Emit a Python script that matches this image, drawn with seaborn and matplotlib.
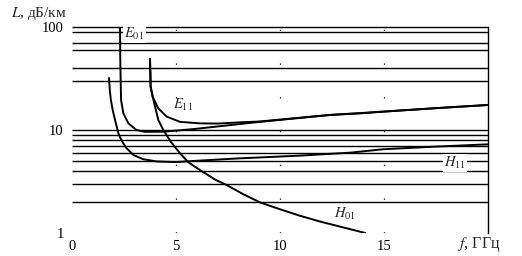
import numpy as np
import pandas as pd
import matplotlib
matplotlib.use("Agg")
import matplotlib.pyplot as plt
import seaborn as sns

# ---- data ----
h11_f = [1.78, 1.82, 1.87, 1.96, 2.07, 2.23, 2.31, 2.45, 2.63, 2.95, 3.43, 4.07, 5.0, 5.8, 8.0, 10.9, 13.4, 14.95, 17.5, 20.0]
h11_L = [32.0, 24.0, 19.5, 15.5, 12.5, 9.3, 8.5, 7.5, 6.64, 5.72, 5.2, 4.95, 4.88, 5.0, 5.3, 5.63, 6.03, 6.5, 6.9, 7.26]

e01_f = [2.31, 2.32, 2.34, 2.36, 2.47, 2.71, 3.1, 3.5, 4.4, 5.83, 7.5, 9.04, 12.4, 14.8, 17.5, 20.0]
e01_L = [100.0, 50.0, 30.0, 19.5, 14.5, 11.6, 10.0, 9.6, 9.63, 10.2, 11.1, 12.0, 14.0, 15.0, 16.3, 17.5]

e11_f = [3.75, 3.77, 3.78, 3.88, 4.15, 4.55, 5.19, 6.15, 7.0, 8.2, 9.04, 12.4, 13.85, 14.8, 17.5, 20.0]
e11_L = [48.9, 35.0, 26.3, 21.0, 16.2, 13.5, 12.0, 11.6, 11.55, 11.9, 12.1, 14.0, 14.5, 15.0, 16.3, 17.5]

h01_f = [3.75, 3.78, 3.88, 4.15, 4.39, 4.75, 5.19, 5.6, 6.15, 6.88, 7.44, 8.2, 9.04, 10.0, 10.96, 12.0, 13.37, 14.1]
h01_L = [48.9, 26.3, 21.0, 12.5, 10.0, 7.7, 5.95, 4.85, 4.09, 3.3, 2.92, 2.4, 1.98, 1.7, 1.47, 1.28, 1.09, 1.0]

grid_levels = [2, 3, 4, 5, 6, 7, 8, 9, 10, 30, 40, 60, 70, 90, 100]
x_ticks = [0, 5, 10, 15]
x_tick_labels = ["0", "5", "10", "15"]
y_ticks = [1, 10, 100]
y_tick_labels = ["1", "10", "100"]
dotted_x = [5, 10, 15]

# ---- style ----
sns.set_theme(style="white")
plt.rcParams['font.family'] = ['Liberation Serif', 'DejaVu Serif']
plt.rcParams['mathtext.fontset'] = 'stix'

fig = plt.figure(figsize=(5.22, 2.56), dpi=100)
ax = fig.add_axes([72 / 522, 1 - 233 / 256, (488 - 72) / 522, (233 - 27) / 256])
ax.set_facecolor('white')

ax.set_yscale('log')
ax.set_xlim(0, 20)
ax.set_ylim(1, 100)

# horizontal grid lines
ax.hlines(grid_levels, 0, 20, colors='black', linewidth=1.0, zorder=1, clip_on=False)
# sparse dotted verticals
ax.vlines(dotted_x, 1, 100, colors='black', linewidth=0.9, linestyles=(0, (1, 26)), zorder=1)

curves = [(h11_f, h11_L), (e01_f, e01_L), (e11_f, e11_L), (h01_f, h01_L)]
for f, L in curves:
    df = pd.DataFrame({'f': f, 'L': L})
    sns.lineplot(data=df, x='f', y='L', ax=ax, color='black', linewidth=1.4,
                 sort=False, estimator=None, zorder=4)

# curve labels
bb = dict(facecolor='white', edgecolor='none', pad=0.8)
ax.text(3.0, 86, r'$E_{01}$', fontsize=10.5, ha='center', va='center', bbox=bb, zorder=3)
ax.text(5.34, 17.5, r'$E_{11}$', fontsize=10.5, ha='center', va='center', zorder=3)
ax.text(18.4, 4.78, r'$H_{11}$', fontsize=10.5, ha='center', va='center', bbox=bb, zorder=3)
ax.text(13.1, 1.53, r'$H_{01}$', fontsize=10.5, ha='center', va='center', zorder=3)

# axes appearance
for s in ['left', 'top', 'bottom']:
    ax.spines[s].set_visible(False)
ax.spines['right'].set_visible(True)
ax.spines['right'].set_color('black')
ax.spines['right'].set_linewidth(1.0)

ax.set_xticks(x_ticks)
ax.set_xticklabels(x_tick_labels)
ax.set_yticks(y_ticks)
ax.set_yticklabels(y_tick_labels)
ax.minorticks_off()
ax.tick_params(axis='both', length=0, labelsize=10.5, colors='black')
ax.tick_params(axis='y', pad=6)
ax.tick_params(axis='x', pad=5)
ax.set_xlabel('')
ax.set_ylabel('')
ax.grid(False)

fig.text(11 / 522, 1 - 13 / 256, r'$L$, дБ/км', fontsize=11, ha='left', va='center')
fig.text(479 / 522, 1 - 244 / 256, r'$f$, ГГц', fontsize=11.5, ha='center', va='center')

fig.savefig('out.png', dpi=100, facecolor='white')
